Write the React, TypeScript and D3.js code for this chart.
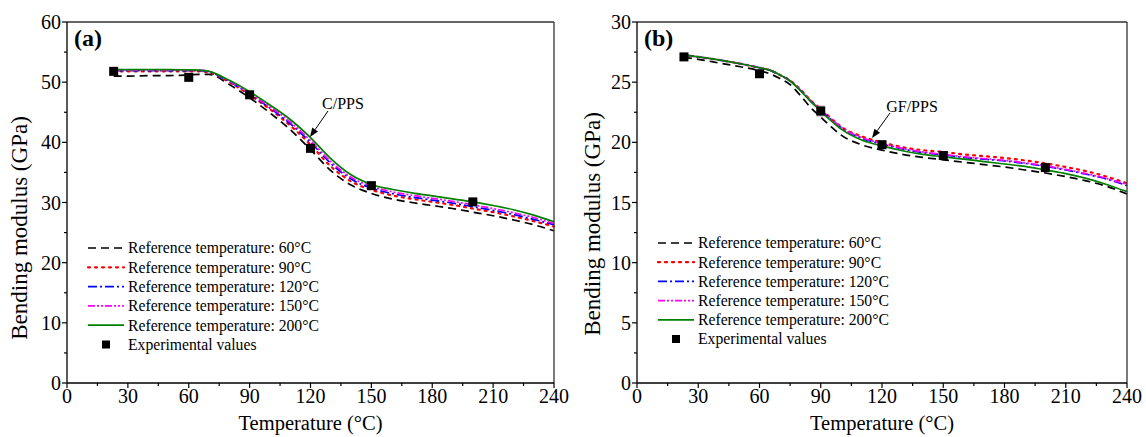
import React from "react";
import * as d3 from "d3";

// ---------- DATA ----------
const seriesNames = [
  "Reference temperature: 60°C",
  "Reference temperature: 90°C",
  "Reference temperature: 120°C",
  "Reference temperature: 150°C",
  "Reference temperature: 200°C",
];
const expLabel = "Experimental values";
const xTicks = [0, 30, 60, 90, 120, 150, 180, 210, 240];

// Panel (a) C/PPS
const tempsA = [23, 30, 40, 50, 60, 65, 70, 80, 90, 100, 110, 120, 130, 140, 150, 160, 170, 180, 190, 200, 210, 220, 230, 240];
const a60 = [51.0, 51.0, 51.1, 51.1, 51.2, 51.3, 51.3, 49.6, 47.4, 44.9, 42.1, 38.8, 35.3, 32.9, 31.5, 30.6, 30.0, 29.5, 29.0, 28.4, 27.8, 27.1, 26.3, 25.3];
const a90 = [51.8, 51.8, 51.8, 51.8, 51.8, 51.8, 51.6, 50.0, 47.9, 45.5, 42.8, 39.6, 36.0, 33.5, 32.1, 31.2, 30.6, 30.1, 29.6, 29.0, 28.4, 27.7, 26.9, 26.0];
const a120 = [51.9, 51.9, 51.9, 51.9, 51.9, 51.9, 51.7, 50.1, 48.0, 45.7, 43.1, 40.0, 36.5, 33.9, 32.4, 31.5, 30.9, 30.4, 29.9, 29.3, 28.7, 28.0, 27.2, 26.3];
const a150 = [52.0, 52.0, 52.0, 52.0, 52.0, 52.0, 51.8, 50.2, 48.1, 45.9, 43.4, 40.3, 36.8, 34.2, 32.7, 31.8, 31.2, 30.7, 30.2, 29.6, 29.0, 28.3, 27.5, 26.5];
const a200 = [52.1, 52.1, 52.1, 52.1, 52.05, 52.0, 51.8, 50.3, 48.4, 46.2, 43.8, 40.8, 37.3, 34.6, 33.0, 32.2, 31.6, 31.1, 30.6, 30.1, 29.5, 28.8, 27.9, 26.8];
const expTA = [23, 60, 90, 120, 150, 200];
const expVA = [51.8, 50.8, 47.9, 39.0, 32.8, 30.1];
const expErrA = [0, 0, 0, 0, 0, 0];

// Panel (b) GF/PPS
const tempsB = [23, 30, 40, 50, 60, 65, 70, 75, 80, 85, 90, 95, 100, 110, 120, 130, 140, 150, 160, 170, 180, 190, 200, 210, 220, 230, 240];
const b60 = [27.05, 26.9, 26.6, 26.3, 25.95, 25.7, 25.3, 24.8, 23.9, 22.9, 22.1, 21.3, 20.6, 19.8, 19.35, 19.0, 18.75, 18.55, 18.35, 18.15, 17.95, 17.7, 17.45, 17.15, 16.8, 16.35, 15.7];
const b90 = [27.25, 27.1, 26.85, 26.55, 26.2, 26.0, 25.6, 25.15, 24.4, 23.5, 22.8, 22.0, 21.3, 20.5, 20.0, 19.6, 19.35, 19.2, 19.0, 18.85, 18.7, 18.5, 18.25, 17.95, 17.6, 17.15, 16.6];
const b120 = [27.25, 27.1, 26.85, 26.55, 26.2, 26.0, 25.6, 25.1, 24.35, 23.45, 22.7, 21.9, 21.2, 20.35, 19.85, 19.45, 19.15, 18.95, 18.75, 18.6, 18.45, 18.25, 18.0, 17.7, 17.35, 16.95, 16.4];
const b150 = [27.25, 27.1, 26.85, 26.55, 26.2, 26.0, 25.6, 25.1, 24.35, 23.45, 22.7, 21.95, 21.25, 20.4, 19.9, 19.5, 19.2, 19.0, 18.8, 18.65, 18.5, 18.3, 18.05, 17.75, 17.4, 17.0, 16.5];
const b200 = [27.25, 27.1, 26.85, 26.55, 26.2, 26.0, 25.6, 25.1, 24.3, 23.4, 22.6, 21.8, 21.1, 20.2, 19.7, 19.3, 19.0, 18.8, 18.6, 18.4, 18.2, 18.0, 17.7, 17.4, 17.0, 16.5, 15.9];
const expTB = [23, 60, 90, 120, 150, 200];
const expVB = [27.1, 25.7, 22.6, 19.8, 18.9, 17.9];
const expErrB = [0, 0.2, 0.4, 0.3, 0.15, 0];

// ---------- STYLE ----------
const colors = ["#000000", "#ff0000", "#0000ff", "#ff00ff", "#008000"];
const dashes = ["8,5", "2,5", "9,3,2,3", "7,2,2,2,2,2", ""];
const FONT = "'Liberation Serif', 'Times New Roman', serif";

type PanelProps = {
  left: number; right: number; top: number; bottom: number;
  yMax: number; yMajor: number; yMinor: number;
  temps: number[]; series: number[][];
  expT: number[]; expV: number[]; expErr: number[];
  tag: string; yLabelX: number; yLabelY: number;
  legendX: number; legendY: number; legendStep: number;
  note: string; noteX: number; noteY: number;
  arrow: [number, number, number, number];
};

function Panel(p: PanelProps) {
  const x = d3.scaleLinear().domain([0, 240]).range([p.left, p.right]);
  const y = d3.scaleLinear().domain([0, p.yMax]).range([p.bottom, p.top]);
  const line = d3.line<[number, number]>()
    .x((d) => x(d[0]))
    .y((d) => y(d[1]))
    .curve(d3.curveMonotoneX);
  const yMajorTicks = d3.range(0, p.yMax + 0.001, p.yMajor);
  const yMinorTicks = d3.range(p.yMinor, p.yMax, p.yMajor);
  const xMinorTicks = d3.range(15, 240, 30);
  const [ax1, ay1, ax2, ay2] = p.arrow;
  const ang = Math.atan2(ay2 - ay1, ax2 - ax1);
  const hl = 9, hw = 3.5;
  const bx = ax2 - hl * Math.cos(ang), by = ay2 - hl * Math.sin(ang);
  const head = `${ax2},${ay2} ${bx + hw * Math.sin(ang)},${by - hw * Math.cos(ang)} ${bx - hw * Math.sin(ang)},${by + hw * Math.cos(ang)}`;
  return (
    <g>
      {p.series.map((vals, i) => (
        <path key={i}
          d={line(p.temps.map((t, j) => [t, vals[j]] as [number, number])) || ""}
          fill="none" stroke={colors[i]} strokeWidth={i === 1 ? 2.2 : 1.7}
          strokeDasharray={dashes[i] || undefined}
          strokeLinecap={i === 1 ? "round" : "butt"} />
      ))}
      {p.expT.map((t, i) => (
        <g key={i}>
          {p.expErr[i] > 0 && (
            <g stroke="#888" strokeWidth={1}>
              <line x1={x(t)} x2={x(t)} y1={y(p.expV[i] - p.expErr[i])} y2={y(p.expV[i] + p.expErr[i])} />
              <line x1={x(t) - 4} x2={x(t) + 4} y1={y(p.expV[i] - p.expErr[i])} y2={y(p.expV[i] - p.expErr[i])} />
              <line x1={x(t) - 4} x2={x(t) + 4} y1={y(p.expV[i] + p.expErr[i])} y2={y(p.expV[i] + p.expErr[i])} />
            </g>
          )}
          <rect x={x(t) - 4.5} y={y(p.expV[i]) - 4.5} width={9} height={9} fill="#000" />
        </g>
      ))}
      <line x1={p.left} x2={p.right} y1={p.top} y2={p.top} stroke="#333" strokeWidth={1.3} />
      <line x1={p.right} x2={p.right} y1={p.top} y2={p.bottom} stroke="#333" strokeWidth={1.3} />
      <line x1={p.left} x2={p.left} y1={p.top} y2={p.bottom} stroke="#000" strokeWidth={1.3} />
      <line x1={p.left} x2={p.right} y1={p.bottom} y2={p.bottom} stroke="#000" strokeWidth={1.3} />
      {yMajorTicks.map((v) => (
        <g key={"ym" + v}>
          <line x1={p.left - 5} x2={p.left} y1={y(v)} y2={y(v)} stroke="#000" strokeWidth={1.2} />
          <text x={p.left - 6} y={y(v)} dy="0.35em" textAnchor="end" fontFamily={FONT} fontSize={20}>{v}</text>
        </g>
      ))}
      {yMinorTicks.map((v) => (
        <line key={"yn" + v} x1={p.left - 3} x2={p.left} y1={y(v)} y2={y(v)} stroke="#000" strokeWidth={1.2} />
      ))}
      {xTicks.map((v) => (
        <g key={"xm" + v}>
          <line x1={x(v)} x2={x(v)} y1={p.bottom} y2={p.bottom + 5} stroke="#000" strokeWidth={1.2} />
          <text x={x(v)} y={p.bottom + 20} textAnchor="middle" fontFamily={FONT} fontSize={20}>{v}</text>
        </g>
      ))}
      {xMinorTicks.map((v) => (
        <line key={"xn" + v} x1={x(v)} x2={x(v)} y1={p.bottom} y2={p.bottom + 3} stroke="#000" strokeWidth={1.2} />
      ))}
      <text x={(p.left + p.right) / 2} y={p.bottom + 47} textAnchor="middle" fontFamily={FONT} fontSize={20.5}>Temperature (°C)</text>
      <text transform={`translate(${p.yLabelX},${p.yLabelY}) rotate(-90)`} textAnchor="middle" dy="0.35em" fontFamily={FONT} fontSize={23}>Bending modulus (GPa)</text>
      <text x={p.left + 7} y={p.top + 24} fontFamily={FONT} fontSize={24} fontWeight="bold">{p.tag}</text>
      <text x={p.noteX} y={p.noteY} textAnchor="middle" dy="0.35em" fontFamily={FONT} fontSize={16}>{p.note}</text>
      <line x1={ax1} y1={ay1} x2={bx} y2={by} stroke="#000" strokeWidth={1} />
      <polygon points={head} fill="#000" />
      {seriesNames.map((name, i) => (
        <g key={"lg" + i}>
          <line x1={p.legendX} x2={p.legendX + 36} y1={p.legendY + i * p.legendStep} y2={p.legendY + i * p.legendStep}
            stroke={colors[i]} strokeWidth={i === 1 ? 2.2 : 1.7} strokeDasharray={dashes[i] || undefined}
            strokeLinecap={i === 1 ? "round" : "butt"} />
          <text x={p.legendX + 40} y={p.legendY + i * p.legendStep} dy="0.35em" fontFamily={FONT} fontSize={15.7}>{name}</text>
        </g>
      ))}
      <rect x={p.legendX + 18 - 4} y={p.legendY + 5 * p.legendStep - 4} width={8} height={8} fill="#000" />
      <text x={p.legendX + 40} y={p.legendY + 5 * p.legendStep} dy="0.35em" fontFamily={FONT} fontSize={15.7}>{expLabel}</text>
    </g>
  );
}

export default function App() {
  return (
    <svg width={1146} height={437} style={{ position: "absolute", left: 0, top: 0, background: "#fff" }}>
      <Panel left={67} right={554} top={22} bottom={383} yMax={60} yMajor={10} yMinor={5}
        temps={tempsA} series={[a60, a90, a120, a150, a200]}
        expT={expTA} expV={expVA} expErr={expErrA}
        tag="(a)" yLabelX={19} yLabelY={228}
        legendX={88} legendY={248} legendStep={19.3}
        note="C/PPS" noteX={343} noteY={103} arrow={[328, 111, 310, 137]} />
      <Panel left={637} right={1127} top={22} bottom={383} yMax={30} yMajor={5} yMinor={2.5}
        temps={tempsB} series={[b60, b90, b120, b150, b200]}
        expT={expTB} expV={expVB} expErr={expErrB}
        tag="(b)" yLabelX={592} yLabelY={224}
        legendX={658} legendY={243} legendStep={19.2}
        note="GF/PPS" noteX={912} noteY={106} arrow={[890, 113, 872, 138]} />
    </svg>
  );
}
